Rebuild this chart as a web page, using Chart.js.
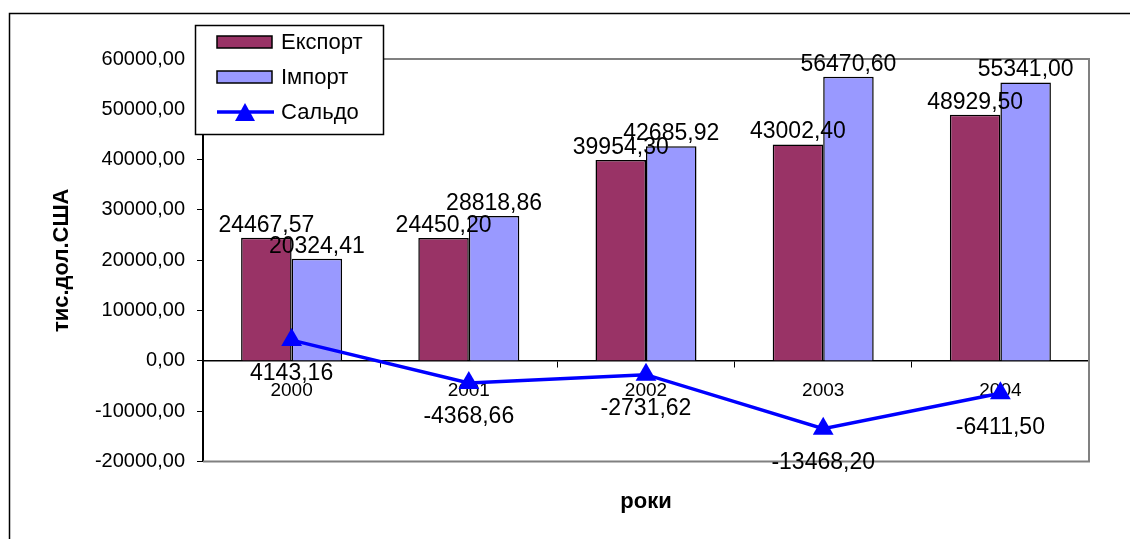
<!DOCTYPE html>
<html>
<head>
<meta charset="utf-8">
<script src="https://cdn.jsdelivr.net/npm/chart.js@4.4.1/dist/chart.umd.min.js"></script>
<style>
  html, body { margin: 0; padding: 0; background: #fff; }
  canvas { display: block; }
</style>
</head>
<body>
<canvas id="chart" width="1130" height="539" style="width:1130px;height:539px"></canvas>
<script>
// data
const years = ["2000", "2001", "2002", "2003", "2004"];
const exportValues = [24467.57, 24450.20, 39954.30, 43002.40, 48929.50];
const importValues = [20324.41, 28818.86, 42685.92, 56470.60, 55341.00];
const saldoValues = [4143.16, -4368.66, -2731.62, -13468.20, -6411.50];
const yMin = -20000;
const yMax = 60000;
const yStep = 10000;

const FONT = "'Liberation Sans', Arial, sans-serif";

function fmt(v) {
  return v.toFixed(2).replace(".", ",");
}

// outer frame, plot border
const framePlugin = {
  id: "frame",
  beforeDraw(chart) {
    const ctx = chart.ctx;
    ctx.save();
    ctx.fillStyle = "#fff";
    ctx.fillRect(0, 0, chart.width, chart.height);
    ctx.strokeStyle = "#000";
    ctx.lineWidth = 1.5;
    ctx.strokeRect(9.5, 13.5, chart.width + 20, chart.height + 20);
    ctx.restore();
  },
  beforeDatasetsDraw(chart) {
    const { left, right, top, bottom } = chart.chartArea;
    const ctx = chart.ctx;
    ctx.save();
    ctx.strokeStyle = "#808080";
    ctx.lineWidth = 2;
    ctx.beginPath();
    ctx.moveTo(left, top);
    ctx.lineTo(right, top);
    ctx.lineTo(right, bottom);
    ctx.lineTo(left, bottom);
    ctx.stroke();
    ctx.restore();
  },
};

// value labels
const labelPlugin = {
  id: "valueLabels",
  afterDatasetsDraw(chart) {
    const ctx = chart.ctx;
    ctx.save();
    ctx.font = "23px " + FONT;
    ctx.fillStyle = "#000";
    ctx.textAlign = "center";
    chart.data.datasets.forEach((ds, i) => {
      const meta = chart.getDatasetMeta(i);
      meta.data.forEach((el, j) => {
        const txt = fmt(ds.data[j]);
        if (ds.type === "line") {
          ctx.textBaseline = "middle";
          ctx.fillText(txt, el.x, el.y + 34);
        } else {
          ctx.textBaseline = "bottom";
          ctx.fillText(txt, el.x, el.y - 1);
        }
      });
    });
    ctx.restore();
  },
};

// legend box in upper left of plot
const legendPlugin = {
  id: "boxLegend",
  afterDraw(chart) {
    const ctx = chart.ctx;
    ctx.save();
    ctx.fillStyle = "#fff";
    ctx.fillRect(195, 25, 188, 109);
    ctx.strokeStyle = "#000";
    ctx.lineWidth = 1.5;
    ctx.strokeRect(195.5, 25.5, 188, 109);
    chart.data.datasets.forEach((ds, i) => {
      const y = 42 + i * 35;
      if (ds.type === "line") {
        ctx.strokeStyle = ds.borderColor;
        ctx.lineWidth = 3.5;
        ctx.beginPath();
        ctx.moveTo(217, y);
        ctx.lineTo(274, y);
        ctx.stroke();
        ctx.fillStyle = ds.borderColor;
        ctx.beginPath();
        ctx.moveTo(245, y - 9);
        ctx.lineTo(255, y + 9);
        ctx.lineTo(235, y + 9);
        ctx.closePath();
        ctx.fill();
      } else {
        ctx.fillStyle = ds.backgroundColor;
        ctx.fillRect(217, y - 6, 55, 12);
        ctx.strokeStyle = "#000";
        ctx.lineWidth = 1.5;
        ctx.strokeRect(217, y - 6, 55, 12);
      }
      ctx.fillStyle = "#000";
      ctx.font = "22px " + FONT;
      ctx.textAlign = "left";
      ctx.textBaseline = "middle";
      ctx.fillText(ds.label, 281, y + 1);
    });
    ctx.restore();
  },
};

const ctx = document.getElementById("chart").getContext("2d");
const myChart = new Chart(ctx, {
  data: {
    labels: years,
    datasets: [
      {
        type: "bar",
        label: "Експорт",
        data: exportValues,
        backgroundColor: "#993366",
        borderColor: "#000",
        borderWidth: 1.5,
        categoryPercentage: 0.57,
        barPercentage: 1,
        order: 1,
      },
      {
        type: "bar",
        label: "Імпорт",
        data: importValues,
        backgroundColor: "#9999FF",
        borderColor: "#000",
        borderWidth: 1.5,
        categoryPercentage: 0.57,
        barPercentage: 1,
        order: 1,
      },
      {
        type: "line",
        label: "Сальдо",
        data: saldoValues,
        borderColor: "#0000FF",
        backgroundColor: "#0000FF",
        borderWidth: 3.5,
        pointStyle: "triangle",
        pointRadius: 12,
        pointBorderWidth: 0,
        tension: 0,
        order: 0,
      },
    ],
  },
  options: {
    responsive: false,
    animation: false,
    layout: {
      padding: { left: 34, right: 41, top: 59, bottom: 16 },
    },
    plugins: {
      legend: { display: false },
      tooltip: { enabled: false },
      title: {
        display: true,
        fullSize: false,
        position: "bottom",
        text: "роки",
        color: "#000",
        font: { family: FONT, size: 22, weight: "bold" },
        padding: { top: 27, bottom: 8 },
      },
    },
    scales: {
      x: {
        position: { y: 0 },
        offset: true,
        grid: {
          offset: true,
          drawOnChartArea: false,
          drawTicks: true,
          tickLength: 6,
          color: "#000",
        },
        border: { color: "#000", width: 1.5 },
        ticks: {
          color: "#000",
          font: { family: FONT, size: 19 },
          padding: 12,
          maxRotation: 0,
        },
      },
      y: {
        min: yMin,
        max: yMax,
        afterFit: (scale) => {
          scale.width = 169;
        },
        grid: {
          drawOnChartArea: false,
          drawTicks: true,
          tickLength: 6,
          color: "#000",
        },
        border: { color: "#000", width: 2 },
        ticks: {
          stepSize: yStep,
          color: "#000",
          padding: 12,
          font: { family: FONT, size: 20 },
          callback: (v) => fmt(v),
        },
        title: {
          display: true,
          text: "тис.дол.США",
          color: "#000",
          font: { family: FONT, size: 22, weight: "bold" },
          padding: { top: 15, bottom: 0 },
        },
      },
    },
  },
  plugins: [framePlugin, labelPlugin, legendPlugin],
});
</script>
</body>
</html>
